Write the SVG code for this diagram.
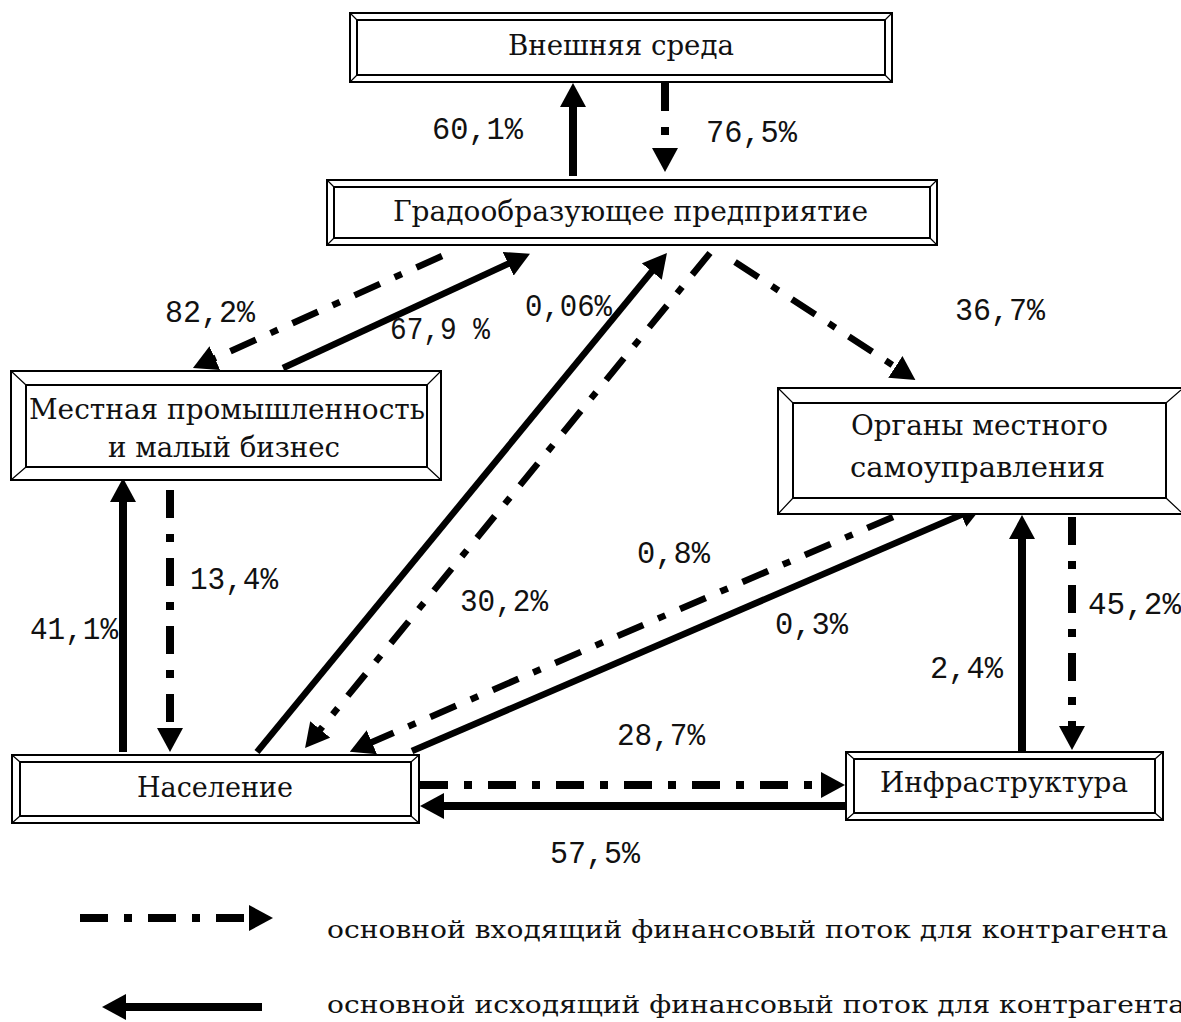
<svg xmlns="http://www.w3.org/2000/svg" width="1181" height="1022" viewBox="0 0 1181 1022">
<defs>
<style>
.o{fill:#fff;stroke:#000;stroke-width:2}
.i{fill:none;stroke:#000;stroke-width:2}
.b{stroke:#000;stroke-width:1.2}
.lbl{font-family:"DejaVu Serif",serif;font-size:27px;fill:#111}
.pct{font-family:"Liberation Mono",monospace;font-size:31px;fill:#111}
.lg{font-family:"DejaVu Serif",serif;font-size:25px;fill:#111}
.s{stroke:#000;stroke-width:8;fill:none;marker-end:url(#ah)}
.d{stroke:#000;stroke-width:8;fill:none;stroke-dasharray:28 16 8 16;marker-end:url(#ah)}
.dg{stroke-width:6.5}
</style>
<marker id="ah" markerUnits="userSpaceOnUse" markerWidth="24" markerHeight="26" viewBox="0 0 24 26" refX="2" refY="13" orient="auto">
<path d="M0,0 L24,13 L0,26 z" fill="#000"/>
</marker>
</defs>
<rect width="1181" height="1022" fill="#fff"/>

<g id="connectors">
<line class="s" x1="573" y1="176" x2="573" y2="105"/>
<line class="d" x1="665" y1="83" x2="665" y2="150"/>
<line class="d dg" x1="442" y1="256" x2="213" y2="359"/>
<line class="s dg" x1="283" y1="368" x2="510" y2="263"/>
<line class="s dg" x1="257" y1="752" x2="653" y2="270"/>
<line class="d dg" x1="710" y1="253" x2="319" y2="731"/>
<line class="d dg" x1="735" y1="262" x2="897" y2="368"/>
<line class="s" x1="123" y1="752" x2="123" y2="500"/>
<line class="d" x1="170" y1="490" x2="170" y2="730"/>
<line class="d dg" x1="893" y1="517" x2="370" y2="743"/>
<line class="s dg" x1="412" y1="751" x2="963" y2="514"/>
<line class="s" x1="1022" y1="751" x2="1022" y2="537"/>
<line class="d" x1="1072" y1="517" x2="1072" y2="728"/>
<line class="d" x1="420" y1="785" x2="823" y2="785"/>
<line class="s" x1="845" y1="806" x2="442" y2="806"/>
<line class="d" x1="80" y1="918" x2="251" y2="918"/>
<line class="s" x1="262" y1="1007" x2="124" y2="1007"/>
</g>

<g id="vneshnyaya">
<rect class="o" x="350" y="13" width="542" height="69"/>
<rect class="i" x="357" y="20" width="528" height="55"/>
<path class="b" d="M350,13 L357,20 M892,13 L885,20 M350,82 L357,75 M892,82 L885,75"/>
<text class="lbl" x="508" y="55" textLength="226" lengthAdjust="spacingAndGlyphs">Внешняя среда</text>
</g>

<g id="grado">
<rect class="o" x="327" y="180" width="610" height="65"/>
<rect class="i" x="334" y="187" width="596" height="51"/>
<path class="b" d="M327,180 L334,187 M937,180 L930,187 M327,245 L334,238 M937,245 L930,238"/>
<text class="lbl" x="393" y="221" textLength="475" lengthAdjust="spacingAndGlyphs">Градообразующее предприятие</text>
</g>

<g id="mestnaya">
<rect class="o" x="11" y="371" width="430" height="109"/>
<rect class="i" x="26" y="385" width="401" height="82"/>
<path class="b" d="M11,371 L26,385 M441,371 L427,385 M11,480 L26,467 M441,480 L427,467"/>
<text class="lbl" x="29" y="419" textLength="396" lengthAdjust="spacingAndGlyphs">Местная промышленность</text>
<text class="lbl" x="108" y="457" textLength="232" lengthAdjust="spacingAndGlyphs">и малый бизнес</text>
</g>

<g id="organy">
<rect class="o" x="778" y="388" width="410" height="126"/>
<rect class="i" x="793" y="403" width="373" height="95"/>
<path class="b" d="M778,388 L793,403 M1181,390 L1166,403 M778,514 L793,498 M1181,512 L1166,498"/>
<text class="lbl" x="851" y="435" textLength="257" lengthAdjust="spacingAndGlyphs">Органы местного</text>
<text class="lbl" x="850" y="477" textLength="255" lengthAdjust="spacingAndGlyphs">самоуправления</text>
</g>

<g id="naselenie">
<rect class="o" x="12" y="755" width="407" height="68"/>
<rect class="i" x="20" y="762" width="391" height="54"/>
<path class="b" d="M12,755 L20,762 M419,755 L411,762 M12,823 L20,816 M419,823 L411,816"/>
<text class="lbl" x="137" y="797" textLength="156" lengthAdjust="spacingAndGlyphs">Население</text>
</g>

<g id="infra">
<rect class="o" x="846" y="752" width="317" height="68"/>
<rect class="i" x="854" y="759" width="301" height="54"/>
<path class="b" d="M846,752 L854,759 M1163,752 L1155,759 M846,820 L854,813 M1163,820 L1155,813"/>
<text class="lbl" x="880" y="792" textLength="248" lengthAdjust="spacingAndGlyphs">Инфраструктура</text>
</g>

<g id="labels">
<text class="pct" x="432" y="139" textLength="91" lengthAdjust="spacingAndGlyphs">60,1%</text>
<text class="pct" x="706" y="142" textLength="91" lengthAdjust="spacingAndGlyphs">76,5%</text>
<text class="pct" x="165" y="322" textLength="90" lengthAdjust="spacingAndGlyphs">82,2%</text>
<text class="pct" x="390" y="339" textLength="100" lengthAdjust="spacingAndGlyphs">67,9 %</text>
<text class="pct" x="525" y="316" textLength="87" lengthAdjust="spacingAndGlyphs">0,06%</text>
<text class="pct" x="955" y="320" textLength="90" lengthAdjust="spacingAndGlyphs">36,7%</text>
<text class="pct" x="190" y="589" textLength="88" lengthAdjust="spacingAndGlyphs">13,4%</text>
<text class="pct" x="30" y="639" textLength="88" lengthAdjust="spacingAndGlyphs">41,1%</text>
<text class="pct" x="637" y="563" textLength="73" lengthAdjust="spacingAndGlyphs">0,8%</text>
<text class="pct" x="460" y="611" textLength="88" lengthAdjust="spacingAndGlyphs">30,2%</text>
<text class="pct" x="775" y="634" textLength="73" lengthAdjust="spacingAndGlyphs">0,3%</text>
<text class="pct" x="1088" y="614" textLength="93" lengthAdjust="spacingAndGlyphs">45,2%</text>
<text class="pct" x="930" y="678" textLength="73" lengthAdjust="spacingAndGlyphs">2,4%</text>
<text class="pct" x="617" y="745" textLength="88" lengthAdjust="spacingAndGlyphs">28,7%</text>
<text class="pct" x="550" y="863" textLength="90" lengthAdjust="spacingAndGlyphs">57,5%</text>
</g>

<g id="legend">
<text class="lg" x="327" y="938" textLength="841" lengthAdjust="spacingAndGlyphs">основной входящий финансовый поток для контрагента</text>
<text class="lg" x="327" y="1013" textLength="858" lengthAdjust="spacingAndGlyphs">основной исходящий финансовый поток для контрагента</text>
</g>
</svg>
